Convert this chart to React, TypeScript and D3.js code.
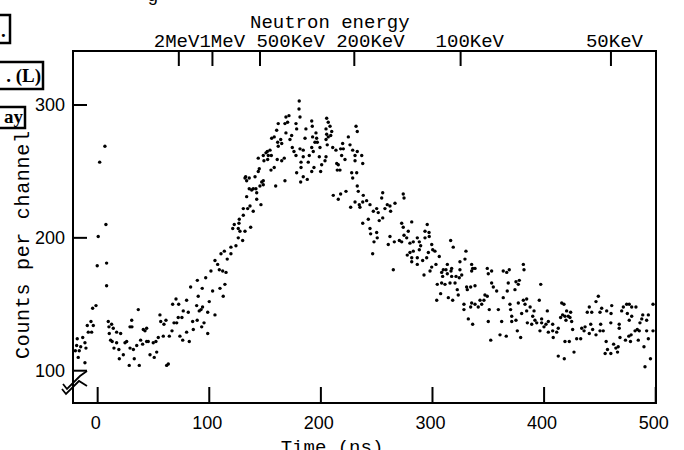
import React from 'react';
import * as d3 from 'd3';

// counts per channel vs time of flight (ns)
const leadingEdge: [number, number][] = [
  [-20, 115], [-18.8, 119], [-18.3, 124], [-17.4, 110], [-16.5, 115], [-15.2, 118],
  [-13.4, 125], [-11.4, 121], [-11.4, 106], [-10.5, 117], [-9.3, 134], [-8.4, 129],
  [-6, 137], [-5.4, 129], [-4.5, 147], [-3.9, 134], [-1.5, 149], [-0.4, 179],
  [0.5, 201], [1.8, 257], [6.5, 269], [7.4, 210], [8, 181], [8, 164],
];

const valley: [number, number][] = [
  [9.5, 137], [10.1, 133], [10.4, 128], [11.6, 123], [12.5, 135], [13, 122], [14, 132],
  [14.6, 117], [17, 129], [17, 121], [19, 116], [19.4, 109], [20.6, 128], [23, 112],
  [24.5, 121], [26, 122], [28.3, 104], [29, 117], [29, 133], [30.5, 138], [30.7, 133],
  [32, 116], [32.8, 109], [35, 119], [36.4, 146], [37.3, 104], [38.5, 123], [40.3, 120],
  [40.9, 131], [42.4, 130], [43.9, 132], [43.9, 122], [45.3, 122], [46.9, 112],
  [49.8, 121], [50.7, 110], [52.2, 122], [52.9, 114], [54.3, 125], [55.8, 142],
  [56.5, 137], [58.8, 126], [59.4, 135], [61.2, 138], [61.8, 104], [63.3, 105],
  [64.2, 126], [66.6, 130], [67.2, 150], [68.4, 136], [70.2, 154], [70.8, 136],
  [72.2, 140], [72.6, 150], [73.7, 126], [75.5, 140], [76.2, 123], [76.7, 145],
  [79.7, 153], [79.7, 129], [81.2, 144], [82.1, 122], [83.3, 163], [85.1, 137], [85.7, 131],
];

const rise: [number, number][] = [
  [88.7, 149], [89.2, 138], [89.3, 168], [90.1, 156], [91, 145], [92.6, 146], [93.2, 133],
  [93.7, 162], [94, 148], [95.3, 136], [96.8, 170], [98.6, 144], [98.6, 128], [100, 152],
  [101.5, 175], [103, 160], [105.1, 183], [105.1, 142], [107.5, 180], [109, 176],
  [109.6, 162], [110.5, 188], [112, 175], [112.5, 156], [113.5, 190], [114, 165],
  [115, 174], [116.1, 184], [119.4, 188], [119.4, 193], [121, 207], [122.4, 210],
  [123.9, 194], [126, 207], [126, 200], [126.6, 211], [126.9, 214], [127.5, 205],
  [129.9, 198], [130.5, 217], [130.5, 222], [132, 205], [132, 245], [132.6, 246],
  [133.5, 231], [133.5, 243], [134.4, 222], [135.8, 245], [135.8, 237], [136.5, 224],
  [137.1, 208], [138, 236], [139.4, 220], [139.4, 237], [141, 246], [141.8, 237],
  [142.5, 234], [142.5, 229], [143.9, 250], [143.9, 260], [144.8, 252], [145.4, 239],
  [146.3, 225], [147, 242], [148.4, 243], [148.4, 240], [148.4, 262], [149, 258],
  [150.8, 264], [152, 265], [152.3, 259], [152.9, 262], [154.4, 266], [155.3, 251],
  [155.6, 262], [155.9, 275], [158.2, 253], [158.2, 276], [159.5, 239], [160.4, 281],
  [160.9, 259], [161.3, 272], [161.8, 269], [161.8, 286], [164, 274], [164.9, 258],
  [164.9, 271], [167.2, 260], [167.8, 243], [167.8, 286], [168.7, 291], [168.7, 279],
  [170.2, 287], [171.4, 292], [172.3, 274], [173.8, 277], [174.4, 268], [175.9, 265],
  [177.7, 286], [177.7, 262], [178.3, 282], [178.3, 249], [180.4, 297], [180.6, 303],
  [181.3, 291], [181.3, 267], [181.9, 242], [182.2, 257], [182.2, 253], [184.2, 266],
  [184.2, 261], [184.2, 246],
];

const crest: [number, number][] = [
  [185.8, 275], [186.6, 282], [187.8, 244], [188.7, 257], [189.6, 262], [191.8, 288],
  [191.8, 268], [191.8, 250], [192.3, 284], [192.6, 276], [193.2, 265], [193.8, 253],
  [194.7, 272], [195.6, 279], [196.2, 275], [196.8, 272], [198.6, 261], [199.2, 268],
  [199.8, 250], [200.7, 255], [203.7, 258], [204.6, 261], [204.6, 282], [204.6, 274],
  [205.2, 290], [205.2, 278], [205.7, 270], [206.6, 287], [206.6, 276], [208.2, 284],
  [208.8, 277], [209.7, 280], [210.6, 268], [211.1, 232], [213.5, 266], [214.2, 256],
  [214.7, 251], [215.6, 255], [215.6, 229], [217.1, 251], [217.7, 267], [217.7, 233],
  [218.6, 262], [219.5, 271], [220.1, 267], [221.6, 259], [222.5, 235], [224.6, 276],
  [226.1, 270], [226.7, 223], [227.6, 249], [228.5, 266], [228.5, 245], [230.6, 262],
  [230.6, 258], [230.6, 227], [231.5, 284], [232.1, 249], [232.6, 280], [232.6, 265],
  [232.6, 239], [233.5, 235], [234.4, 225], [235, 223], [236.6, 262], [237.5, 256],
  [237.5, 227], [237.5, 211], [238, 232], [241, 228], [242.5, 214], [244, 225],
  [244, 207], [244.6, 203], [246.4, 188], [247, 220], [247.6, 197], [250, 222],
  [250, 204], [250.5, 200], [251.4, 219], [252.3, 213], [254.5, 230], [255.4, 234],
  [255.4, 215], [257.4, 222], [259.5, 225], [260.4, 195], [261.9, 224], [261.9, 201],
  [262.5, 220], [264.9, 176], [265.8, 197], [266.4, 226], [270.3, 198], [272.4, 197],
  [272.4, 211], [273.8, 233], [273.8, 208], [274.5, 230], [274.5, 202], [276.9, 200],
  [277.4, 187], [278.3, 205], [279.8, 196], [279.8, 189], [281.4, 212], [281.4, 185],
  [281.4, 182], [282.8, 190], [282.8, 197],
];

const tail: [number, number][] = [
  [286.4, 200], [286.4, 185], [286.4, 180], [288.2, 197], [288.2, 191], [289.4, 194],
  [291.2, 183], [292.4, 172], [293.3, 205], [293.3, 200], [294.8, 185], [295.3, 210],
  [296.3, 189], [296.9, 204], [297.1, 201], [297.8, 175], [299.3, 195], [299.3, 178],
  [300.2, 191], [302.2, 190], [303.1, 180], [303.8, 153], [304.3, 165], [306.1, 186],
  [307.3, 158], [308.2, 174], [308.2, 166], [309.1, 171], [309.7, 176], [311.2, 165],
  [312.1, 176], [313.3, 173], [313.3, 180], [314.2, 155], [315.7, 166], [316.3, 198],
  [316.6, 175], [317.2, 177], [317.2, 171], [318.1, 153], [318.6, 193], [320.2, 166],
  [321.1, 171], [322.2, 161], [323.1, 157], [324, 170], [324.6, 176], [324.6, 182],
  [326.2, 172], [328.2, 150], [328.2, 146], [329.1, 184], [330, 190], [330.6, 163],
  [331.2, 161], [332.1, 139], [334.2, 163], [334.2, 148], [335.1, 180], [335.1, 175],
  [335.1, 151], [336, 177], [336, 135], [338.1, 177], [338.1, 164], [338.1, 150],
  [341, 148], [342.6, 153], [344.1, 150], [346.1, 153], [347, 157], [349.1, 177],
  [349.1, 156], [350, 173], [350, 137], [350.9, 146], [352.2, 123], [353, 175],
  [353, 166], [354.5, 163], [357.5, 160], [359, 146], [360.5, 127], [362, 137],
  [363.4, 175], [363.4, 155], [366.1, 126], [366.5, 174], [367, 160], [367.9, 166],
  [368.8, 176], [369.4, 150], [370, 146], [371, 141], [371, 137], [373.9, 161],
  [374.8, 167], [374.8, 138], [376, 130], [376.9, 165], [376.9, 151], [377.8, 168],
  [379, 125], [379.9, 143], [381.4, 180], [381.4, 153], [382, 176], [382.9, 150],
  [384.4, 154], [384.4, 145], [385, 136], [387.5, 148], [388.9, 135], [389.8, 141],
  [391, 145], [391.8, 138], [393.4, 136], [395.7, 153], [396.3, 130], [397, 165],
  [397.8, 139], [397.8, 136], [399.9, 133], [401.7, 135], [402.9, 145], [403.8, 137],
  [403.8, 129], [407.7, 130], [407.7, 135], [408.2, 125], [411.3, 129], [412.7, 132],
  [412.7, 111], [414.8, 140], [415.8, 151], [416.6, 142], [417.8, 150], [418.1, 109],
  [418.7, 141], [418.7, 122], [419.6, 138], [420.2, 145], [421.7, 141], [422.6, 122],
  [423.2, 140], [423.8, 144], [424.7, 137], [425.6, 131], [426.8, 114], [429.2, 124],
  [432.8, 124], [433.7, 132], [435.8, 130], [436.7, 133], [438.7, 144], [440.5, 148],
  [440.5, 128], [441.8, 135], [442.7, 144], [443.5, 131], [446.5, 152], [446.5, 127],
  [448.6, 156], [450.1, 144], [450.1, 130], [450.7, 135], [451.6, 147], [453, 130],
  [454.7, 113], [455.6, 122], [456.1, 145], [456.8, 116], [459.8, 136], [459.8, 113],
  [460, 143], [460.6, 149], [462.3, 120], [464.3, 117], [465.8, 114], [466.4, 118],
  [467.3, 135], [467.3, 132], [468, 125], [469.5, 145], [471, 148], [472.9, 123],
  [474, 150], [474.6, 143], [475.9, 126], [476.3, 150], [476.3, 138], [477.4, 122],
  [478, 127], [478.5, 148], [478.5, 141], [481.5, 130], [482.3, 148], [483.5, 131],
  [484.4, 123], [485.3, 130], [485.9, 136], [487.5, 139], [488.4, 142], [489.5, 118],
  [490.4, 103], [491.9, 138], [491.9, 130], [493.4, 142], [493.4, 124], [495.3, 109],
  [497.6, 130], [497.6, 150],
];

const timeTicks = [0, 100, 200, 300, 400, 500];
const countTicks = [100, 200, 300];
const energyKeV = [2000, 1000, 500, 200, 100, 50];
const energyLabels = ['2MeV', '1MeV', '500KeV', '200KeV', '100KeV', '50KeV'];

const W = 684;
const H = 450;
const left = 73, right = 656, top = 51, bottom = 403;
const mono = '"Liberation Mono", "DejaVu Sans Mono", monospace';
const sans = '"Liberation Sans", Arial, sans-serif';
const monoSize = 19;
const charW = monoSize * 0.6;

// flight time (ns) for a neutron of energy E keV over this flight path
const flightTime = (e: number) => 3252 / Math.sqrt(e);

const App: React.FC = () => {
  const x = d3.scaleLinear().domain([-22.1, 500]).range([left, 655.7]);
  const y = d3.scaleLinear().domain([300, 100]).range([105, 370.7]);

  const points = [...leadingEdge, ...valley, ...rise, ...crest, ...tail];

  // energy labels typed left to right; the MeV pair runs together,
  // every KeV label keeps one blank before it
  let prevEnd = -Infinity;
  const energyMarks = energyKeV.map((e, i) => {
    const label = energyLabels[i];
    const tx = x(flightTime(e));
    const gap = label.endsWith('KeV') ? charW : 0;
    const start = Math.max(tx - 25, prevEnd + gap);
    prevEnd = start + label.length * charW;
    return { tx, start, label };
  });

  return (
    <div style={{ position: 'absolute', left: 0, top: 0 }}>
      <svg width={W} height={H} style={{ display: 'block', background: '#fff' }}>
        {/* cropped neighbour labels on the left edge */}
        <g fontFamily='"Liberation Serif", serif' fontWeight="bold" fontSize={19}>
          <rect x={-6} y={15} width={16} height={28} fill="#fff" stroke="#000" strokeWidth={2.5} />
          <text x={1} y={37}>.</text>
          <rect x={-6} y={62} width={49} height={27} fill="#fff" stroke="#000" strokeWidth={2.5} />
          <text x={41} y={82} textAnchor="end">. (L)</text>
          <rect x={-6} y={107} width={31} height={21} fill="#fff" stroke="#000" strokeWidth={2.5} />
          <text x={23} y={123} textAnchor="end">ay</text>
        </g>
        <text x={147} y={1} fontFamily={mono} fontSize={monoSize}>g</text>

        {/* frame */}
        <rect x={left} y={top} width={right - left} height={bottom - top}
          fill="none" stroke="#000" strokeWidth={2} />

        {/* bottom time axis */}
        {timeTicks.map(t => (
          <g key={t}>
            <line x1={x(t)} x2={x(t)} y1={bottom} y2={bottom - 16} stroke="#000" strokeWidth={2} />
            <text x={x(t) - 2} y={429} textAnchor="middle" fontFamily={sans} fontSize={18}>{t}</text>
          </g>
        ))}
        <text x={332} y={453} textAnchor="middle" fontFamily={mono} fontSize={monoSize}>Time (ns)</text>

        {/* left count axis */}
        {countTicks.map(c => (
          <g key={c}>
            <line x1={left} x2={left + 14} y1={y(c)} y2={y(c)} stroke="#000" strokeWidth={2} />
            <text x={65} y={y(c) + 6} textAnchor="end" fontFamily={sans} fontSize={18}>{c}</text>
          </g>
        ))}
        <text transform={`translate(29,245) rotate(-90)`} textAnchor="middle"
          fontFamily={mono} fontSize={20} textLength={228} lengthAdjust="spacing">
          Counts per channel
        </text>

        {/* axis break */}
        <g fill="none" stroke="#000" strokeWidth={1.8} strokeLinejoin="miter">
          <polyline points="62,389 66,394 79,381 87,386" />
          <polyline points="63,384 67,389 80,376 87,371" />
        </g>

        {/* top neutron energy axis */}
        {energyMarks.map(m => (
          <g key={m.label}>
            <line x1={m.tx} x2={m.tx} y1={top} y2={top + 15} stroke="#000" strokeWidth={2} />
            <text x={m.start} y={47} fontFamily={mono} fontSize={monoSize}>{m.label}</text>
          </g>
        ))}
        <text x={250} y={28} fontFamily={mono} fontSize={monoSize}>Neutron energy</text>

        {/* data */}
        <g fill="#000">
          {points.map((d, i) => (
            <circle key={i} cx={x(d[0])} cy={y(d[1])} r={1.7} />
          ))}
        </g>
      </svg>
    </div>
  );
};

export default App;
